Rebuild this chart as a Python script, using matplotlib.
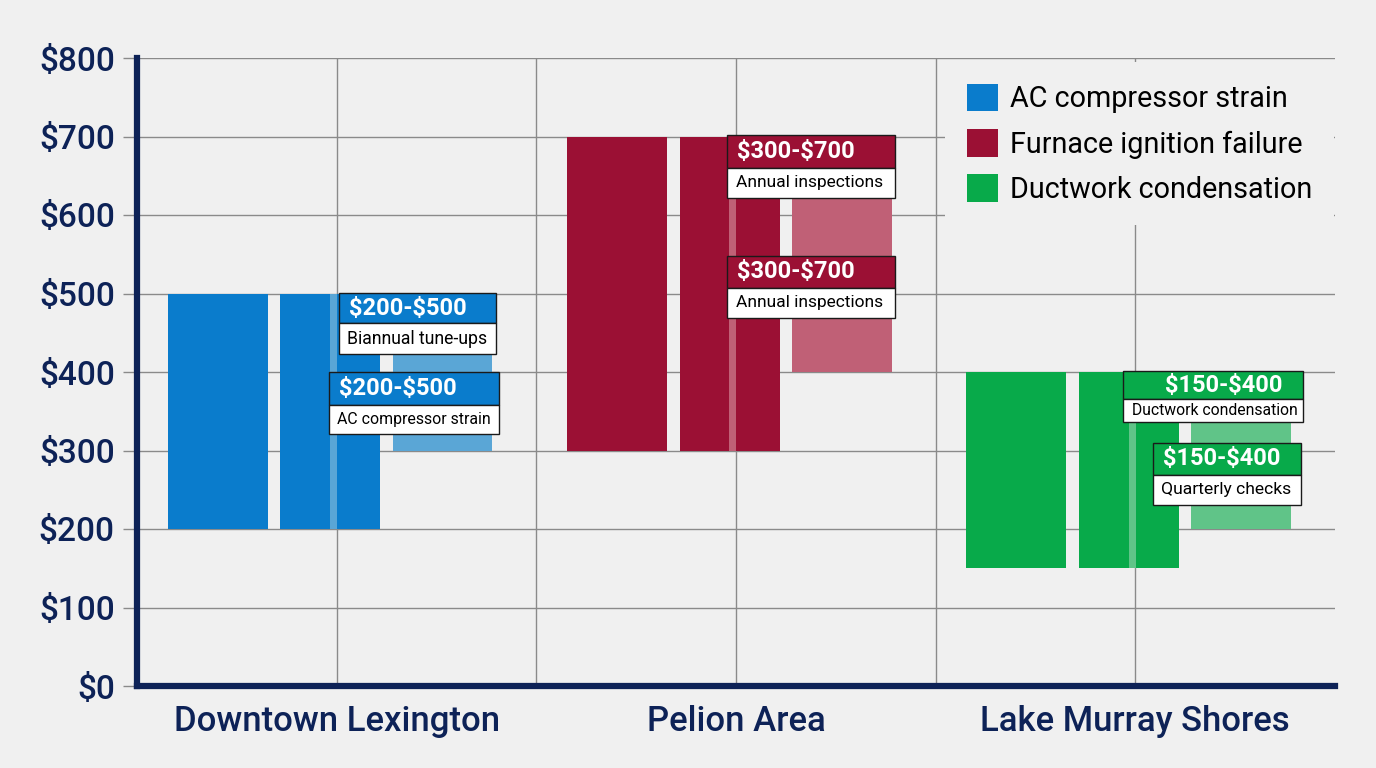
import matplotlib
matplotlib.use("Agg")
import matplotlib.pyplot as plt
from matplotlib.patches import Rectangle, Patch
import numpy as np

# ---------------- data ----------------
categories = ["Downtown Lexington", "Pelion Area", "Lake Murray Shores"]
series_names = ["AC compressor strain", "Furnace ignition failure", "Ductwork condensation"]
range_low = [200, 300, 150]
range_high = [500, 700, 400]
light_low = [300, 400, 200]
light_high = [500, 700, 400]
yticks = [0, 100, 200, 300, 400, 500, 600, 700, 800]
ytick_labels = ["$0", "$100", "$200", "$300", "$400", "$500", "$600", "$700", "$800"]

label_headers = [["$200-$500", "$200-$500"],
                 ["$300-$700", "$300-$700"],
                 ["$150-$400", "$150-$400"]]
label_bodies = [["Biannual tune-ups", "AC compressor strain"],
                ["Annual inspections", "Annual inspections"],
                ["Ductwork condensation", "Quarterly checks"]]

# ---------------- style ----------------
BG = "#f0f0f0"
NAVY = "#0d2257"
dark_colors = ["#0a7ccc", "#9b1034", "#08aa4a"]
light_colors = ["#5aa6d6", "#c06076", "#60c488"]
FONT = ["Roboto", "DejaVu Sans"]
plt.rcParams["font.family"] = FONT

# label layout: (left offset from category centre, width, top value, header h, body h,
#                header align, body font size)
label_layout = [
    [(0.005, 0.393, 500, 38, 39, "left", 12.7), (-0.020, 0.426, 400, 42, 37, "left", 11.4)],
    [(-0.0225, 0.421, 702, 42, 38, "left", 12.5), (-0.0225, 0.421, 548, 41, 38, "left", 12.5)],
    [(-0.030, 0.449, 401, 36, 29, "right", 11.3), (0.043, 0.371, 310, 41, 38, "right", 12.6)],
]

fig = plt.figure(figsize=(13.76, 7.68), dpi=100, facecolor=BG)
ax = fig.add_axes([137 / 1376, 1 - 686 / 768, (1335 - 137) / 1376, (686 - 58) / 768])
ax.set_facecolor(BG)

x = np.arange(len(categories))
offsets = [-0.298, -0.016, 0.265]
width = 0.25

for i in range(len(categories)):
    lo, hi = range_low[i], range_high[i]
    ax.bar(x[i] + offsets[0], hi - lo, bottom=lo, width=width, color=dark_colors[i], zorder=2)
    ax.bar(x[i] + offsets[1], hi - lo, bottom=lo, width=width, color=dark_colors[i], zorder=2)
    # thin light strip inside the middle bar
    ax.bar(x[i] - 0.008, hi - lo, bottom=lo, width=0.018, color=light_colors[i], zorder=3)
    ax.bar(x[i] + offsets[2], light_high[i] - light_low[i], bottom=light_low[i], width=width,
           color=light_colors[i], zorder=2)

    for j in range(2):
        lx, lw, top, hh, bh, align, bfs = label_layout[i][j]
        left = x[i] + lx
        ax.add_patch(Rectangle((left, top - hh), lw, hh, facecolor=dark_colors[i],
                               edgecolor="#1a1a1a", lw=1.0, zorder=6))
        ax.add_patch(Rectangle((left, top - hh - bh), lw, bh, facecolor="white",
                               edgecolor="#1a1a1a", lw=1.0, zorder=6))
        if align == "left":
            ax.text(left + 0.025, top - hh / 2, label_headers[i][j], color="white",
                    fontsize=17, fontweight="bold", ha="left", va="center", zorder=7,
                    parse_math=False)
        else:
            ax.text(left + lw - 0.05, top - hh / 2, label_headers[i][j], color="white",
                    fontsize=17, fontweight="bold", ha="right", va="center", zorder=7,
                    parse_math=False)
        ax.text(left + 0.022, top - hh - bh / 2, label_bodies[i][j], color="black",
                fontsize=bfs, ha="left", va="center", zorder=7)

ax.set_xlim(-0.5, 2.5)
ax.set_ylim(0, 800)
ax.set_yticks(yticks)
ax.set_yticklabels(ytick_labels)
ax.set_xticks(x)
ax.set_xticklabels(categories)
ax.set_xticks([0.5, 1.5], minor=True)

ax.set_axisbelow(True)
ax.grid(True, which="both", color="#8a8a8a", linewidth=1.0)

for s in ["top", "right"]:
    ax.spines[s].set_visible(False)
for s in ["left", "bottom"]:
    ax.spines[s].set_color(NAVY)
    ax.spines[s].set_linewidth(4.5)
    ax.spines[s].set_zorder(8)

ax.tick_params(axis="y", length=10, width=1, color="#8a8a8a", pad=6,
               labelsize=24, labelcolor=NAVY)
ax.tick_params(axis="x", which="both", length=0, pad=14, labelsize=25, labelcolor=NAVY)
for t in ax.get_yticklabels() + ax.get_xticklabels():
    t.set_fontweight("medium")

handles = [Patch(facecolor=c, edgecolor="none") for c in dark_colors]
leg = ax.legend(handles, series_names, loc="upper left",
                bbox_to_anchor=(945 / 1376, 1 - 62 / 768), bbox_transform=fig.transFigure,
                fontsize=20.7, frameon=True, facecolor=BG, edgecolor="none", framealpha=1,
                fancybox=False, handlelength=1.1, handleheight=1.1, handletextpad=0.4,
                labelspacing=0.55, borderpad=0.75, borderaxespad=0)
leg.set_zorder(9)

fig.savefig("out.png", dpi=100, facecolor=BG)
